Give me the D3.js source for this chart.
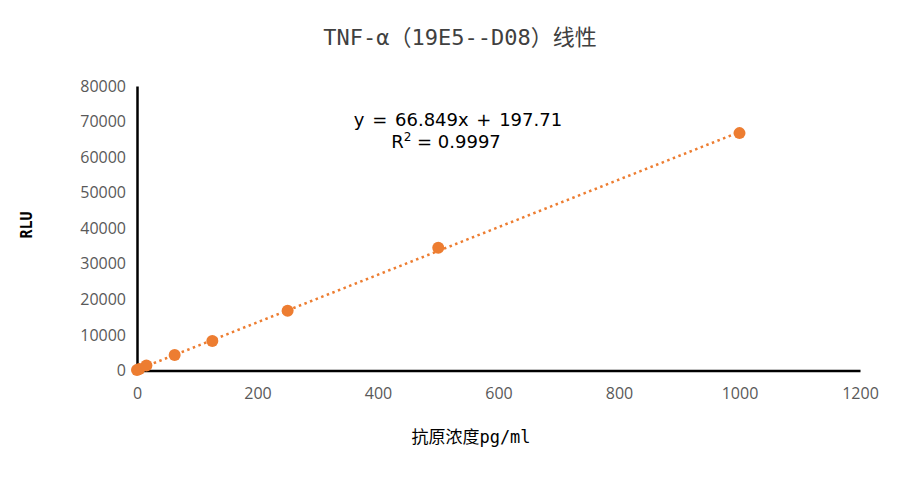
<!DOCTYPE html>
<html><head><meta charset="utf-8">
<script src="https://cdn.jsdelivr.net/npm/d3@7"></script>
<style>body{margin:0;background:#fff}</style></head>
<body><svg id="c" width="920" height="480"></svg>
<script>
const concentrations = [0, 3.9, 15.6, 62.5, 125, 250, 500, 1000];
const rluValues = [150, 420, 1400, 4380, 8300, 16820, 34530, 66750];
const xTicks = [0, 200, 400, 600, 800, 1000, 1200];
const yTicks = [0, 10000, 20000, 30000, 40000, 50000, 60000, 70000, 80000];
const slope = 66.849, intercept = 197.71;
const titleText = "TNF-α（19E5--D08）线性";
const eqText = "y = 66.849x + 197.71";

const svg = d3.select("#c");
const x = d3.scaleLinear().domain([0, 1200]).range([137, 860]);
const y = d3.scaleLinear().domain([0, 80000]).range([370.5, 86]);

const xa = svg.append("g").attr("transform", "translate(0,370.5)")
  .call(d3.axisBottom(x).tickValues(xTicks).tickSize(0).tickPadding(17).tickFormat(d3.format("d")));
const ya = svg.append("g").attr("transform", "translate(137,0)")
  .call(d3.axisLeft(y).tickValues(yTicks).tickSize(0).tickPadding(11).tickFormat(d3.format("d")));
[xa, ya].forEach(g => {
  g.select(".domain").attr("stroke", "#000").attr("stroke-width", 2.5);
  g.selectAll("text").attr("fill", "#595959").style("font-family", "'Open Sans','Noto Sans',sans-serif").style("font-size", "16px");
});

const trend = concentrations.filter((d, i) => i === 0 || i === concentrations.length - 1);
svg.append("path")
  .attr("d", d3.line().x(d => x(d)).y(d => y(slope * d + intercept))(trend))
  .attr("stroke", "#ED7D31").attr("stroke-width", 2.5).attr("fill", "none")
  .attr("stroke-dasharray", "2.5 3.5");

svg.append("g").selectAll("circle").data(concentrations).join("circle")
  .attr("cx", d => x(d)).attr("cy", (d, i) => y(rluValues[i])).attr("r", 6)
  .attr("fill", "#ED7D31");

svg.append("text").attr("x", 460).attr("y", 45).attr("text-anchor", "middle")
  .attr("fill", "#404040").style("font-family", "'DejaVu Sans Mono','Noto Sans CJK SC',monospace").style("font-size", "22px")
  .text(titleText);

const eq = svg.append("g").style("font-family", "'DejaVu Sans',sans-serif").style("font-size", "18px").attr("fill", "#000");
eq.append("text").attr("x", 458).attr("y", 126).attr("text-anchor", "middle").style("word-spacing", "2px").text(eqText);
const r2 = eq.append("text").attr("x", 446).attr("y", 148).attr("text-anchor", "middle");
r2.append("tspan").text("R");
r2.append("tspan").attr("dy", -7).style("font-size", "12px").text("2");
r2.append("tspan").attr("dy", 7).text(" = 0.9997");

svg.append("text").attr("transform", "translate(32,225) rotate(-90)").attr("text-anchor", "middle")
  .attr("fill", "#000").style("font-family", "'DejaVu Sans Mono',monospace").style("font-size", "15px").style("font-weight", "bold")
  .text("RLU");
svg.append("text").attr("x", 471).attr("y", 443).attr("text-anchor", "middle")
  .attr("fill", "#000").style("font-family", "'DejaVu Sans Mono','Noto Sans CJK SC',monospace").style("font-size", "17px")
  .text("抗原浓度pg/ml");
</script></body></html>
